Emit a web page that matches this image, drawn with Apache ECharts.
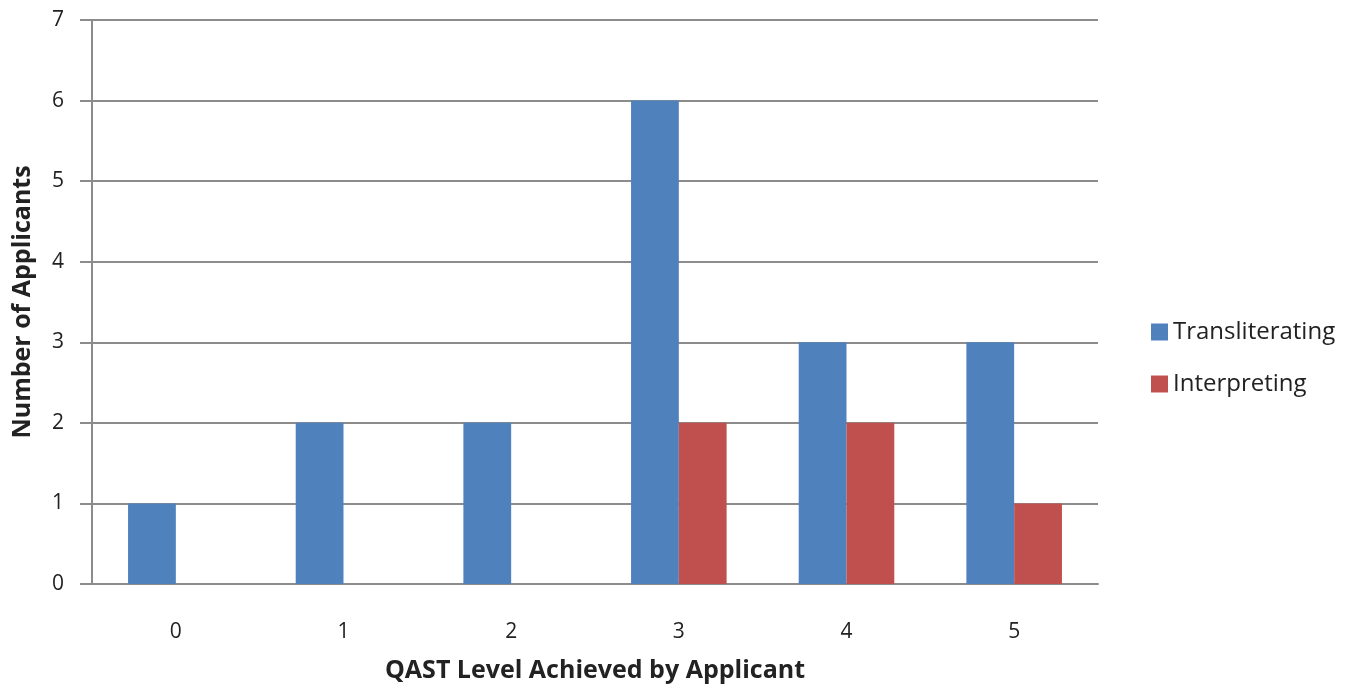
<!DOCTYPE html>
<html>
<head>
<meta charset="utf-8">
<script src="https://cdn.jsdelivr.net/npm/echarts@6/dist/echarts.min.js"></script>
<style>html,body{margin:0;padding:0;background:#fff;}#c{width:1369px;height:688px;}</style>
</head>
<body>
<div id="c"></div>
<script>
const categories = ['0', '1', '2', '3', '4', '5'];
const transliterating = [1, 2, 2, 6, 3, 3];
const interpreting = [0, 0, 0, 2, 2, 1];
const yTicks = { min: 0, max: 7, interval: 1 };

const chart = echarts.init(document.getElementById('c'));
const font = '"Open Sans", Lato, sans-serif';
chart.setOption({
  animation: false,
  textStyle: { fontFamily: font },
  grid: { left: 92, width: 1006, top: 20, height: 565, containLabel: false },
  legend: {
    orient: 'vertical', left: 1146, top: 315,
    itemWidth: 17, itemHeight: 17, itemGap: 28,
    icon: 'rect',
    textStyle: { fontSize: 24, color: '#222', fontFamily: font },
    data: ['Transliterating', 'Interpreting']
  },
  xAxis: {
    type: 'category', data: categories,
    name: 'QAST Level Achieved by Applicant', nameLocation: 'middle', nameGap: 74,
    nameTextStyle: { fontSize: 25, fontWeight: 'bold', color: '#222', fontFamily: font },
    axisLine: { lineStyle: { color: '#8c8c8c', width: 2 } },
    axisTick: { show: false },
    axisLabel: { fontSize: 21, color: '#222', margin: 38 }
  },
  yAxis: {
    type: 'value', min: yTicks.min, max: yTicks.max, interval: yTicks.interval,
    name: 'Number of Applicants', nameLocation: 'middle', nameGap: 57,
    nameTextStyle: { fontSize: 25, fontWeight: 'bold', color: '#222', fontFamily: font },
    axisLine: { show: true, lineStyle: { color: '#8c8c8c', width: 2 } },
    axisTick: { show: true, inside: false, length: 12, lineStyle: { color: '#8c8c8c', width: 2 } },
    axisLabel: { fontSize: 21, color: '#222', margin: 28 },
    splitLine: { lineStyle: { color: '#8c8c8c', width: 2 } }
  },
  series: [
    { name: 'Transliterating', type: 'bar', data: transliterating, barGap: '0%', barCategoryGap: '43%', itemStyle: { color: '#4F81BD' } },
    { name: 'Interpreting', type: 'bar', data: interpreting, barGap: '0%', barCategoryGap: '43%', itemStyle: { color: '#C0504D' } }
  ]
});
</script>
</body>
</html>
